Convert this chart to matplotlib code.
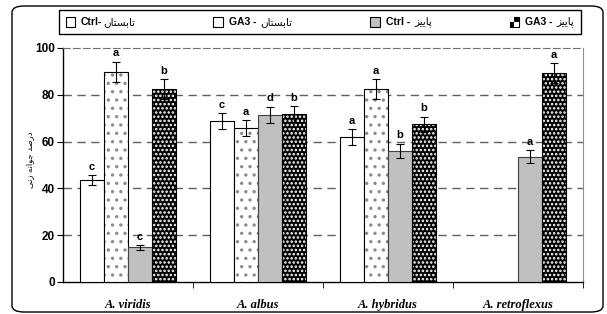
import matplotlib
matplotlib.use('Agg')
import matplotlib.pyplot as plt
import numpy as np
from matplotlib.patches import FancyBboxPatch, Rectangle
from matplotlib.offsetbox import HPacker, TextArea, DrawingArea, AnchoredOffsetbox

# data
species = ['A. viridis', 'A. albus', 'A. hybridus', 'A. retroflexus']
ctrl_sum = [43.6, 68.8, 61.8, np.nan]
ga3_sum = [89.9, 65.7, 82.3, np.nan]
ctrl_aut = [14.8, 71.4, 56.1, 53.6]
ga3_aut = [82.3, 71.8, 67.4, 89.2]
err_ctrl_sum = [2.1, 3.3, 3.4, 0]
err_ga3_sum = [4.3, 3.5, 4.3, 0]
err_ctrl_aut = [1.0, 3.5, 2.9, 2.8]
err_ga3_aut = [4.3, 3.4, 3.3, 4.3]
let_ctrl_sum = ['c', 'c', 'a', '']
let_ga3_sum = ['a', 'a', 'a', '']
let_ctrl_aut = ['c', 'd', 'b', 'a']
let_ga3_aut = ['b', 'b', 'b', 'a']

# simple persian shaping (presentation forms, visual order)
FORMS = {
    'ا': ('\uFE8D', '\uFE8E', None, None),
    'ب': ('\uFE8F', '\uFE90', '\uFE91', '\uFE92'),
    'ت': ('\uFE95', '\uFE96', '\uFE97', '\uFE98'),
    'س': ('\uFEB1', '\uFEB2', '\uFEB3', '\uFEB4'),
    'ن': ('\uFEE5', '\uFEE6', '\uFEE7', '\uFEE8'),
    'د': ('\uFEA9', '\uFEAA', None, None),
    'ر': ('\uFEAD', '\uFEAE', None, None),
    'ز': ('\uFEAF', '\uFEB0', None, None),
    'ص': ('\uFEB9', '\uFEBA', '\uFEBB', '\uFEBC'),
    'م': ('\uFEE1', '\uFEE2', '\uFEE3', '\uFEE4'),
    'ج': ('\uFE9D', '\uFE9E', '\uFE9F', '\uFEA0'),
    'و': ('\uFEED', '\uFEEE', None, None),
    'ه': ('\uFEE9', '\uFEEA', '\uFEEB', '\uFEEC'),
    'پ': ('\uFB56', '\uFB57', '\uFB58', '\uFB59'),
    'ی': ('\uFBFC', '\uFBFD', '\uFBFE', '\uFBFF'),
}

def fa(s):
    out = []
    for i, c in enumerate(s):
        if c not in FORMS:
            out.append(c)
            continue
        p = s[i - 1] if i > 0 else ''
        n = s[i + 1] if i < len(s) - 1 else ''
        jp = p in FORMS and FORMS[p][2] is not None
        jn = FORMS[c][2] is not None and n in FORMS
        f = FORMS[c]
        if jp and jn:
            out.append(f[3])
        elif jp:
            out.append(f[1])
        elif jn:
            out.append(f[2])
        else:
            out.append(f[0])
    return ''.join(out[::-1])

summer = fa('تابستان')
autumn = fa('پاییز')
ylab = fa('درصد جوانه زنی')

plt.rcParams['hatch.linewidth'] = 1.2

fig = plt.figure(figsize=(6.07, 3.14), dpi=100)
ax = fig.add_axes([63/607, 1-282/314, 520/607, 234/314])

x = np.arange(len(species))
w = 0.185
series = [ctrl_sum, ga3_sum, ctrl_aut, ga3_aut]
errs = [err_ctrl_sum, err_ga3_sum, err_ctrl_aut, err_ga3_aut]
lets = [let_ctrl_sum, let_ga3_sum, let_ctrl_aut, let_ga3_aut]

for k in range(4):
    xs = x + (k - 1.5) * w
    v = np.array(series[k], dtype=float)
    e = np.array(errs[k])
    if k == 0:
        ax.bar(xs, v, w, color='white', edgecolor='black', lw=0.8, zorder=3)
    elif k == 1:
        ax.bar(xs, v, w, color='white', edgecolor='#8c8c8c', hatch='..', lw=0, zorder=3)
        ax.bar(xs, v, w, color='none', edgecolor='black', lw=0.8, zorder=3)
    elif k == 2:
        ax.bar(xs, v, w, color='#c0c0c0', edgecolor='#404040', lw=0.8, zorder=3)
    else:
        ax.bar(xs, v, w, color='black', edgecolor='white', hatch='....', lw=0, zorder=3)
        ax.bar(xs, v, w, color='none', edgecolor='black', lw=0.8, zorder=3)
    ok = ~np.isnan(v)
    ax.errorbar(xs[ok], v[ok], yerr=e[ok], fmt='none', ecolor='black',
                elinewidth=0.8, capsize=3, capthick=0.8, zorder=4)
    for xi, vi, ei, li in zip(xs, v, e, lets[k]):
        if li:
            ax.text(xi, vi + ei + 1.5, li, ha='center', va='bottom',
                    fontsize=8, fontweight='bold', family='Liberation Sans', zorder=5)

ax.set_xlim(-0.5, 3.5)
ax.set_ylim(0, 100)
ax.set_yticks([0, 20, 40, 60, 80, 100])
ax.set_yticklabels(['0', '20', '40', '60', '80', '100'], fontsize=8.5,
                   fontweight='bold', family='Liberation Sans')
for yv in [20, 40, 60, 80]:
    ax.axhline(yv, color='#606060', lw=1, ls=(0, (6, 4)), zorder=1)
ax.set_xticks([0.5, 1.5, 2.5, 3.5], minor=True)
ax.set_xticks(x)
ax.set_xticklabels(species, fontsize=9, fontweight='bold', style='italic',
                   family='Liberation Serif')
ax.tick_params(axis='x', which='major', length=0, pad=12)
ax.tick_params(axis='x', which='minor', length=4, direction='out')
ax.tick_params(axis='y', length=4, direction='out', pad=2)
ax.spines['top'].set_color('#707070')
ax.spines['top'].set_linestyle((0, (6, 3)))
ax.spines['right'].set_color('#909090')
ax.spines['left'].set_linewidth(1)
ax.spines['bottom'].set_linewidth(1)

fig.text(30/607, 1-160/314, ylab, rotation=90, ha='center', va='center',
         fontsize=6, family='DejaVu Sans')

# outer rounded frame
fig.patches.append(FancyBboxPatch((12/607, 2/314), 591/607, 306/314,
                                  boxstyle='round,pad=0,rounding_size=0.02',
                                  transform=fig.transFigure, fc='none',
                                  ec='black', lw=1, zorder=0))

# legend
def marker(k):
    da = DrawingArea(7, 7, 0, 0)
    if k == 0:
        da.add_artist(Rectangle((0, 0), 7, 7, fc='white', ec='black', lw=0.8))
    elif k == 1:
        da.add_artist(Rectangle((0, 0), 7, 7, fc='white', ec='black', lw=0.8))
    elif k == 2:
        da.add_artist(Rectangle((0, 0), 7, 7, fc='#c0c0c0', ec='black', lw=0.8))
    else:
        da.add_artist(Rectangle((0, 0), 7, 7, fc='black', ec='black', lw=0.8))
        da.add_artist(Rectangle((3.5, 0), 3.5, 3.5, fc='white', lw=0))
        da.add_artist(Rectangle((0, 3.5), 3.5, 3.5, fc='white', lw=0))
    return da

lat = ['Ctrl-', 'GA3 - ', 'Ctrl - ', 'GA3 - ']
fas = [summer, summer, autumn, autumn]
entries = []
for k in range(4):
    txt = HPacker(children=[
        TextArea(lat[k], textprops=dict(fontsize=7.5, fontweight='bold',
                                        family='Liberation Sans')),
        TextArea(fas[k], textprops=dict(fontsize=7.5, family='DejaVu Sans')),
    ], pad=0, sep=1, align='center')
    entries.append(HPacker(children=[marker(k), txt], pad=0, sep=4, align='center'))
box = HPacker(children=entries, pad=0, sep=56, align='center')
anch = AnchoredOffsetbox(loc='center', child=box, pad=0.45, borderpad=0,
                         bbox_to_anchor=(320/607, 1-22/314),
                         bbox_transform=fig.transFigure, frameon=True)
anch.patch.set_boxstyle('square,pad=0')
anch.patch.set_edgecolor('black')
anch.patch.set_linewidth(1)
fig.add_artist(anch)

fig.savefig('out.png', dpi=100)
